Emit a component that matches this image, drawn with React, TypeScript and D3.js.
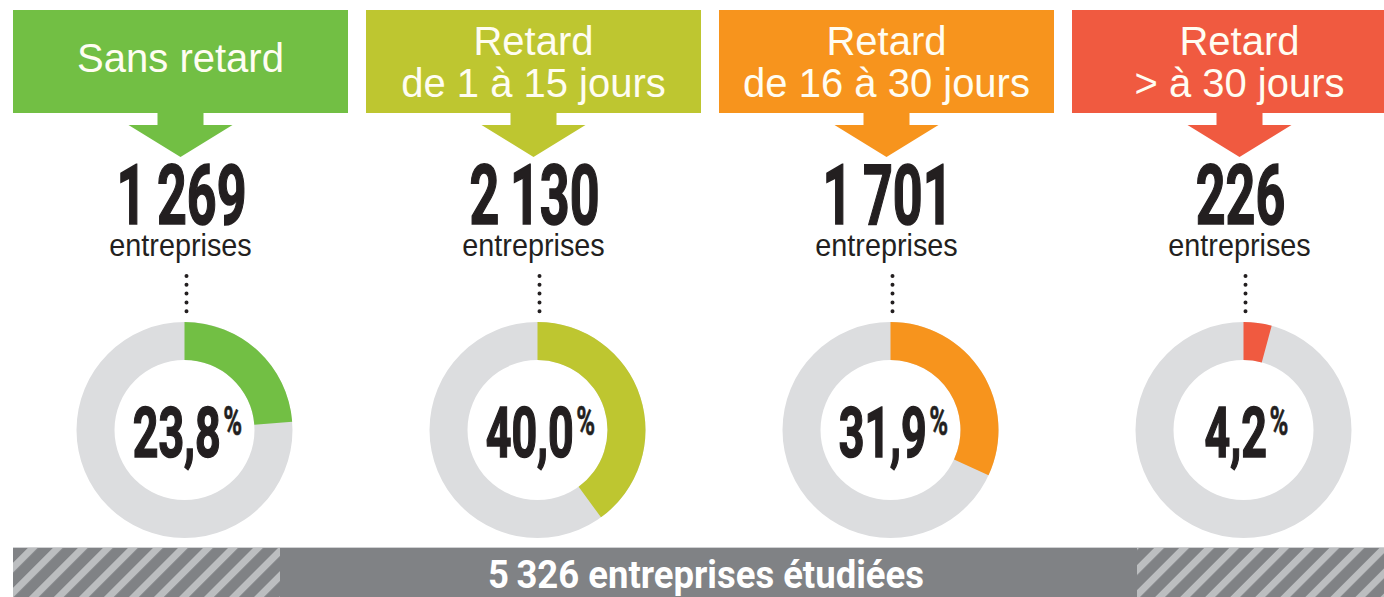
import React from "react";
import * as d3 from "d3";

const categories = ["Sans retard", "Retard de 1 à 15 jours", "Retard de 16 à 30 jours", "Retard > à 30 jours"];
const headerLines = [["Sans retard"], ["Retard", "de 1 à 15 jours"], ["Retard", "de 16 à 30 jours"], ["Retard", "> à 30 jours"]];
const counts = [1269, 2130, 1701, 226];
const percents = [23.8, 40.0, 31.9, 4.2];
const colors = ["#72bf44", "#bec630", "#f7941d", "#f05a40"];
const totalCount = 5326;
const unitLabel = "entreprises";
const totalLabel = "entreprises étudiées";

const W = 1384;
const H = 597;

const fr = d3.formatLocale({ decimal: ",", thousands: "\u2009", grouping: [3], currency: ["", " €"] });
const fmtInt = fr.format(",d");
const fmtPct = fr.format(".1f");

export default function App() {
  const pad = 18 / 353;
  const x = d3.scaleBand<string>().domain(categories).range([13, 13 + 353 * (4 - pad)]).paddingInner(pad).paddingOuter(0);
  const bw = x.bandwidth();
  const angle = d3.scaleLinear().domain([0, 100]).range([0, 2 * Math.PI]);
  const arc = d3.arc<any>().innerRadius(70).outerRadius(108);
  const donutY = 430;

  return (
    <svg width={W} height={H} style={{ position: "absolute", left: 0, top: 0, display: "block" }}>
      <defs>
        <pattern id="hatch" patternUnits="userSpaceOnUse" width={17.7} height={17.7} patternTransform="rotate(45)">
          <rect width={17.7} height={17.7} fill="#808285" />
          <rect width={7} height={17.7} fill="#bcbec0" />
        </pattern>
      </defs>
      <rect width={W} height={H} fill="#ffffff" />
      {categories.map((c, i) => {
        const x0 = x(c)!;
        const cx = x0 + bw / 2;
        const dcx = cx + 4;
        const lines = headerLines[i];
        const baselines = lines.length === 1 ? [72] : [55, 97];
        return (
          <g key={c}>
            <rect x={x0} y={10} width={bw} height={103} fill={colors[i]} />
            <path
              d={`M${cx - 23},112 L${cx + 23},112 L${cx + 23},125 L${cx + 52},125 L${cx},157 L${cx - 52},125 L${cx - 23},125 Z`}
              fill={colors[i]}
            />
            {lines.map((l, j) => (
              <text key={j} x={cx} y={baselines[j]} textAnchor="middle" fill="#fffdf2"
                fontFamily="'Liberation Sans', Arial, sans-serif" fontSize={40}>{l}</text>
            ))}
            <g transform={`translate(${cx + 1},224) scale(0.62,1)`}>
              <text x={0} y={0} textAnchor="middle" fill="#231f20" stroke="#231f20" strokeWidth={1.6}
                fontFamily="Roboto, sans-serif" fontWeight={700} fontSize={84}>{fmtInt(counts[i])}</text>
            </g>
            <g transform={`translate(${cx},256) scale(0.9,1)`}>
              <text x={0} y={0} textAnchor="middle" fill="#231f20"
                fontFamily="'Liberation Sans', Arial, sans-serif" fontSize={32}>{unitLabel}</text>
            </g>
            <line x1={dcx + 2} x2={dcx + 2} y1={276} y2={313} stroke="#231f20" strokeWidth={4}
              strokeLinecap="round" strokeDasharray="0 8.8" />
            <g transform={`translate(${dcx},${donutY})`}>
              <path d={arc({ startAngle: 0, endAngle: 2 * Math.PI })!} fill="#dcdddf" />
              <path d={arc({ startAngle: 0, endAngle: angle(percents[i]) })!} fill={colors[i]} />
              <g transform={`translate(3,27) scale(0.64,1)`}>
                <text x={0} y={0} textAnchor="middle" fill="#231f20" stroke="#231f20" strokeWidth={1.6}
                  fontFamily="Roboto, sans-serif" fontWeight={700} fontSize={70}>
                  {fmtPct(percents[i])}
                  <tspan fontSize={40} dx={4} dy={-22} strokeWidth={0.6}>%</tspan>
                </text>
              </g>
            </g>
          </g>
        );
      })}
      <line x1={13} x2={W} y1={547.5} y2={547.5} stroke="#d0d1d3" strokeWidth={1} />
      <rect x={13} y={548} width={W - 13} height={H - 548} fill="#808285" />
      <rect x={13} y={548} width={280 - 13} height={H - 548} fill="url(#hatch)" />
      <rect x={1137} y={548} width={W - 1137} height={H - 548} fill="url(#hatch)" />
      <g transform={`translate(706,588) scale(0.96,1)`}>
        <text x={0} y={0} textAnchor="middle" fill="#ffffff" fontFamily="Roboto, sans-serif" fontWeight={700} fontSize={38}>
          {fmtInt(totalCount) + " " + totalLabel}
        </text>
      </g>
    </svg>
  );
}
